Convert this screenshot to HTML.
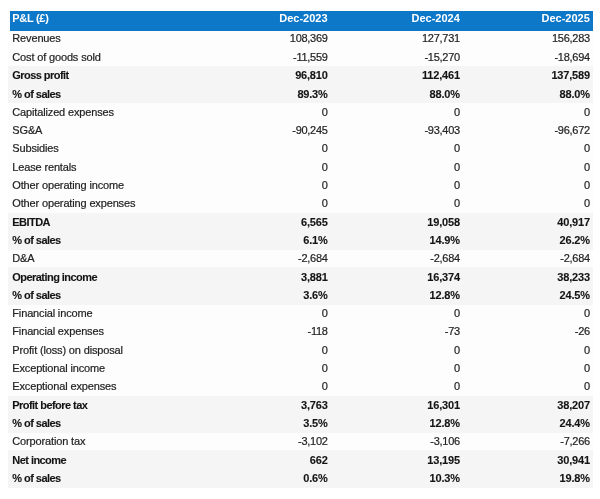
<!DOCTYPE html>
<html><head><meta charset="utf-8"><style>
*{margin:0;padding:0;box-sizing:border-box}
html,body{width:600px;height:499px;background:#fff;overflow:hidden}
body{position:relative;font-family:"Liberation Sans",sans-serif;font-size:11px;color:#222}
#c{position:absolute;left:0;top:0;width:600px;height:499px;will-change:transform}
.hdr{position:absolute;left:10px;top:10.7px;width:583px;height:19.9px;background:#0e78c8}
.band{position:absolute;left:8px;width:585px;background:#f5f5f5}
.t{position:absolute;white-space:nowrap;line-height:normal}
.n,.l{-webkit-text-stroke:0.2px #222}
.n{letter-spacing:-0.28px}
.l{letter-spacing:-0.15px}
.b{font-weight:bold;color:#141414;letter-spacing:-0.2px}
.b{-webkit-text-stroke:0.1px #141414}
.bl{letter-spacing:-0.55px}
.w{color:#fff;font-weight:bold}
.wl{letter-spacing:-0.3px}
</style></head><body><div id="c">
<div style="position:absolute;left:8px;top:30.50px;width:585px;height:457.50px;background:#fdfdfd"></div>
<div class="band" style="top:66.10px;height:37.30px"></div>
<div class="band" style="top:212.50px;height:37.30px"></div>
<div class="band" style="top:267.40px;height:37.30px"></div>
<div class="band" style="top:395.50px;height:37.30px"></div>
<div class="band" style="top:450.40px;height:37.30px"></div>
<div class="hdr"></div>
<div class="t w wl" style="left:12.30px;top:12.10px">P&amp;L (£)</div>
<div class="t w" style="right:272.40px;top:12.10px">Dec-2023</div>
<div class="t w" style="right:140.20px;top:12.10px">Dec-2024</div>
<div class="t w" style="right:10.20px;top:12.10px">Dec-2025</div>
<div class="t l" style="left:12.30px;top:32.40px">Revenues</div>
<div class="t n" style="right:272.40px;top:32.40px">108,369</div>
<div class="t n" style="right:140.20px;top:32.40px">127,731</div>
<div class="t n" style="right:10.20px;top:32.40px">156,283</div>
<div class="t l" style="left:12.30px;top:50.70px">Cost of goods sold</div>
<div class="t n" style="right:272.40px;top:50.70px">-11,559</div>
<div class="t n" style="right:140.20px;top:50.70px">-15,270</div>
<div class="t n" style="right:10.20px;top:50.70px">-18,694</div>
<div class="t b bl" style="left:12.30px;top:69.20px">Gross profit</div>
<div class="t b" style="right:272.40px;top:69.20px">96,810</div>
<div class="t b" style="right:140.20px;top:69.20px">112,461</div>
<div class="t b" style="right:10.20px;top:69.20px">137,589</div>
<div class="t b bl" style="left:12.30px;top:87.50px">% of sales</div>
<div class="t b" style="right:272.40px;top:87.50px">89.3%</div>
<div class="t b" style="right:140.20px;top:87.50px">88.0%</div>
<div class="t b" style="right:10.20px;top:87.50px">88.0%</div>
<div class="t l" style="left:12.30px;top:105.60px">Capitalized expenses</div>
<div class="t n" style="right:272.40px;top:105.60px">0</div>
<div class="t n" style="right:140.20px;top:105.60px">0</div>
<div class="t n" style="right:10.20px;top:105.60px">0</div>
<div class="t l" style="left:12.30px;top:123.90px">SG&amp;A</div>
<div class="t n" style="right:272.40px;top:123.90px">-90,245</div>
<div class="t n" style="right:140.20px;top:123.90px">-93,403</div>
<div class="t n" style="right:10.20px;top:123.90px">-96,672</div>
<div class="t l" style="left:12.30px;top:142.20px">Subsidies</div>
<div class="t n" style="right:272.40px;top:142.20px">0</div>
<div class="t n" style="right:140.20px;top:142.20px">0</div>
<div class="t n" style="right:10.20px;top:142.20px">0</div>
<div class="t l" style="left:12.30px;top:160.50px">Lease rentals</div>
<div class="t n" style="right:272.40px;top:160.50px">0</div>
<div class="t n" style="right:140.20px;top:160.50px">0</div>
<div class="t n" style="right:10.20px;top:160.50px">0</div>
<div class="t l" style="left:12.30px;top:178.80px">Other operating income</div>
<div class="t n" style="right:272.40px;top:178.80px">0</div>
<div class="t n" style="right:140.20px;top:178.80px">0</div>
<div class="t n" style="right:10.20px;top:178.80px">0</div>
<div class="t l" style="left:12.30px;top:197.10px">Other operating expenses</div>
<div class="t n" style="right:272.40px;top:197.10px">0</div>
<div class="t n" style="right:140.20px;top:197.10px">0</div>
<div class="t n" style="right:10.20px;top:197.10px">0</div>
<div class="t b bl" style="left:12.30px;top:215.60px">EBITDA</div>
<div class="t b" style="right:272.40px;top:215.60px">6,565</div>
<div class="t b" style="right:140.20px;top:215.60px">19,058</div>
<div class="t b" style="right:10.20px;top:215.60px">40,917</div>
<div class="t b bl" style="left:12.30px;top:233.90px">% of sales</div>
<div class="t b" style="right:272.40px;top:233.90px">6.1%</div>
<div class="t b" style="right:140.20px;top:233.90px">14.9%</div>
<div class="t b" style="right:10.20px;top:233.90px">26.2%</div>
<div class="t l" style="left:12.30px;top:252.00px">D&amp;A</div>
<div class="t n" style="right:272.40px;top:252.00px">-2,684</div>
<div class="t n" style="right:140.20px;top:252.00px">-2,684</div>
<div class="t n" style="right:10.20px;top:252.00px">-2,684</div>
<div class="t b bl" style="left:12.30px;top:270.50px">Operating income</div>
<div class="t b" style="right:272.40px;top:270.50px">3,881</div>
<div class="t b" style="right:140.20px;top:270.50px">16,374</div>
<div class="t b" style="right:10.20px;top:270.50px">38,233</div>
<div class="t b bl" style="left:12.30px;top:288.80px">% of sales</div>
<div class="t b" style="right:272.40px;top:288.80px">3.6%</div>
<div class="t b" style="right:140.20px;top:288.80px">12.8%</div>
<div class="t b" style="right:10.20px;top:288.80px">24.5%</div>
<div class="t l" style="left:12.30px;top:306.90px">Financial income</div>
<div class="t n" style="right:272.40px;top:306.90px">0</div>
<div class="t n" style="right:140.20px;top:306.90px">0</div>
<div class="t n" style="right:10.20px;top:306.90px">0</div>
<div class="t l" style="left:12.30px;top:325.20px">Financial expenses</div>
<div class="t n" style="right:272.40px;top:325.20px">-118</div>
<div class="t n" style="right:140.20px;top:325.20px">-73</div>
<div class="t n" style="right:10.20px;top:325.20px">-26</div>
<div class="t l" style="left:12.30px;top:343.50px">Profit (loss) on disposal</div>
<div class="t n" style="right:272.40px;top:343.50px">0</div>
<div class="t n" style="right:140.20px;top:343.50px">0</div>
<div class="t n" style="right:10.20px;top:343.50px">0</div>
<div class="t l" style="left:12.30px;top:361.80px">Exceptional income</div>
<div class="t n" style="right:272.40px;top:361.80px">0</div>
<div class="t n" style="right:140.20px;top:361.80px">0</div>
<div class="t n" style="right:10.20px;top:361.80px">0</div>
<div class="t l" style="left:12.30px;top:380.10px">Exceptional expenses</div>
<div class="t n" style="right:272.40px;top:380.10px">0</div>
<div class="t n" style="right:140.20px;top:380.10px">0</div>
<div class="t n" style="right:10.20px;top:380.10px">0</div>
<div class="t b bl" style="left:12.30px;top:398.60px">Profit before tax</div>
<div class="t b" style="right:272.40px;top:398.60px">3,763</div>
<div class="t b" style="right:140.20px;top:398.60px">16,301</div>
<div class="t b" style="right:10.20px;top:398.60px">38,207</div>
<div class="t b bl" style="left:12.30px;top:416.90px">% of sales</div>
<div class="t b" style="right:272.40px;top:416.90px">3.5%</div>
<div class="t b" style="right:140.20px;top:416.90px">12.8%</div>
<div class="t b" style="right:10.20px;top:416.90px">24.4%</div>
<div class="t l" style="left:12.30px;top:435.00px">Corporation tax</div>
<div class="t n" style="right:272.40px;top:435.00px">-3,102</div>
<div class="t n" style="right:140.20px;top:435.00px">-3,106</div>
<div class="t n" style="right:10.20px;top:435.00px">-7,266</div>
<div class="t b bl" style="left:12.30px;top:453.50px">Net income</div>
<div class="t b" style="right:272.40px;top:453.50px">662</div>
<div class="t b" style="right:140.20px;top:453.50px">13,195</div>
<div class="t b" style="right:10.20px;top:453.50px">30,941</div>
<div class="t b bl" style="left:12.30px;top:471.80px">% of sales</div>
<div class="t b" style="right:272.40px;top:471.80px">0.6%</div>
<div class="t b" style="right:140.20px;top:471.80px">10.3%</div>
<div class="t b" style="right:10.20px;top:471.80px">19.8%</div>
</div></body></html>
